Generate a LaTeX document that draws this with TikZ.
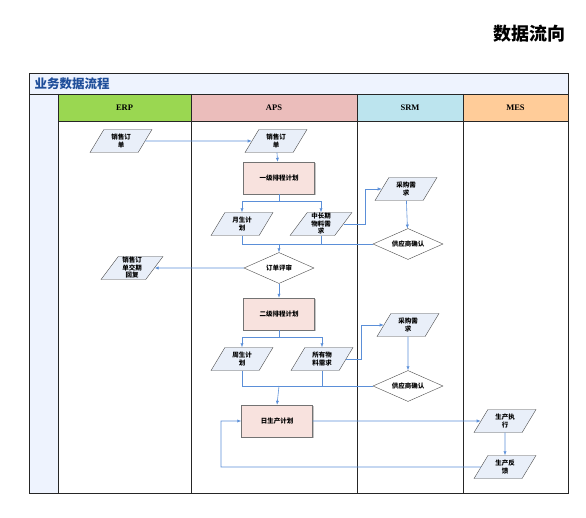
\documentclass[tikz,border=0pt]{standalone}
\usepackage{fontspec}
\setmainfont{Liberation Serif}
\newfontfamily\cjk{Noto Sans CJK SC}
\usetikzlibrary{positioning,shapes.geometric,arrows.meta,shadows}
\definecolor{flowblue}{HTML}{5B8FD8}
\definecolor{headblue}{HTML}{1F4E9A}
\definecolor{stripbg}{HTML}{EEF3FE}
\definecolor{databg}{HTML}{E9EFF9}
\definecolor{planbg}{HTML}{F8E2DE}
\definecolor{erpgreen}{HTML}{9AD751}
\definecolor{apspink}{HTML}{EBBDBB}
\definecolor{srmblue}{HTML}{BCE4EE}
\definecolor{mesorange}{HTML}{FFCC99}
\tikzset{
  datashape/.style={trapezium, trapezium left angle=60, trapezium right angle=120,
    trapezium stretches=true, draw=black!70, fill=databg, minimum width=62pt,
    minimum height=23pt, inner sep=0pt, align=center,
    font=\cjk\bfseries\fontsize{6.5}{7.5}\selectfont},
  planbox/.style={rectangle, draw=black!55, fill=planbg, minimum width=71pt,
    minimum height=32pt, inner sep=0pt,
    drop shadow={shadow xshift=1.2pt, shadow yshift=-1.2pt, fill=black!45},
    font=\cjk\bfseries\fontsize{6.5}{7.5}\selectfont},
  checkshape/.style={diamond, aspect=2.2, draw=black!70, fill=white,
    minimum width=70pt, minimum height=31pt, inner sep=0pt,
    font=\cjk\bfseries\fontsize{6.5}{7.5}\selectfont},
  flow/.style={draw=flowblue, line width=0.6pt, -{Latex[length=4pt,width=3.2pt]}},
  link/.style={draw=flowblue, line width=0.6pt},
  frameline/.style={draw=black!85, line width=0.8pt}
}
\newcommand{\lanehead}[4]{\draw[frameline, fill=#3] (#1,94) rectangle
    node[font=\bfseries\fontsize{8.5}{9}\selectfont] {#4} (#2,121);}
\begin{document}
\begin{tikzpicture}[x=1pt,y=-1pt]
  \useasboundingbox (0,0) rectangle (586,518);

  % title
  \node[anchor=east, font=\cjk\bfseries\fontsize{18}{18}\selectfont] (title) at (569,34) {数据流向};

  % frame and lanes
  \fill[stripbg] (29,73) rectangle (568,94);
  \fill[stripbg] (29,94) rectangle (58,493);
  \node[anchor=west, text=headblue, font=\cjk\bfseries\fontsize{12.5}{13}\selectfont] (flowname) at (31,84) {业务数据流程};
  \lanehead{58}{191}{erpgreen}{ERP}
  \lanehead{191}{357}{apspink}{APS}
  \lanehead{357}{463}{srmblue}{SRM}
  \lanehead{463}{568}{mesorange}{MES}
  \draw[frameline] (29,73) rectangle (568,493);
  \draw[frameline] (29,94) -- (568,94);
  \foreach \lx in {58,191,357,463}
    \draw[frameline] (\lx,94) -- (\lx,493);

  % nodes
  \node[datashape] (erpOrder) at (121,141) {销售订\\单};
  \node[datashape] (apsOrder) at (276,141) {销售订\\单};
  \node[planbox] (planA) at (279,178) {一级排程计划};
  \node[datashape] (monthPlan) at (242,224) {月生计\\划};
  \node[datashape] (longNeed) at (321,224) {中长期\\物料需\\求};
  \node[datashape] (buyA) at (406,189) {采购需\\求};
  \node[checkshape] (confirmA) at (408,244) {供应商确认};
  \node[checkshape] (review) at (279,268) {订单评审};
  \node[datashape] (reply) at (132,268) {销售订\\单交期\\回复};
  \node[planbox] (planB) at (279,314) {二级排程计划};
  \node[datashape] (weekPlan) at (242,359) {周生计\\划};
  \node[datashape] (allNeed) at (322,359) {所有物\\料需求};
  \node[datashape] (buyB) at (408,325) {采购需\\求};
  \node[checkshape] (confirmB) at (408,386) {供应商确认};
  \node[planbox] (planC) at (277,421) {日生产计划};
  \node[datashape] (exec) at (505,421) {生产执\\行};
  \node[datashape] (feedback) at (505,467) {生产反\\馈};

  \coordinate (joinA) at (279,244);
  \coordinate (joinB) at (279,386);
  \coordinate (backC) at (221,467);

  % connectors
  \draw[flow] (erpOrder) -- (apsOrder);
  \draw[flow] (apsOrder) -- (planA);
  \draw[flow] (planA.south) -- ++(0,7) -| (monthPlan.north);
  \draw[flow] (planA.south) -- ++(0,7) -| (longNeed.north);
  \draw[link] (monthPlan.south) |- (joinA);
  \draw[link] (longNeed.south) |- (joinA);
  \draw[link] (confirmA.west) -- (joinA);
  \draw[flow] (joinA) -- (review.north);
  \draw[flow] (longNeed.east) -- ++(22,0) |- (buyA.west);
  \draw[flow] (buyA) -- (confirmA);
  \draw[flow] (review.west) -- (reply.east);
  \draw[flow] (review) -- (planB);
  \draw[flow] (planB.south) -- ++(0,7) -| (weekPlan.north);
  \draw[flow] (planB.south) -- ++(0,7) -| (allNeed.north);
  \draw[link] (weekPlan.south) |- (joinB);
  \draw[link] (allNeed.south) |- (joinB);
  \draw[link] (confirmB.west) -- (joinB);
  \draw[flow] (joinB) -- (planC.north);
  \draw[flow] (allNeed.east) -- ++(15,0) |- (buyB.west);
  \draw[flow] (buyB) -- (confirmB);
  \draw[flow] (planC.east) -- (exec.west);
  \draw[flow] (exec) -- (feedback);
  \draw[flow] (feedback.west) -- (backC) |- (planC.west);
\end{tikzpicture}
\end{document}
